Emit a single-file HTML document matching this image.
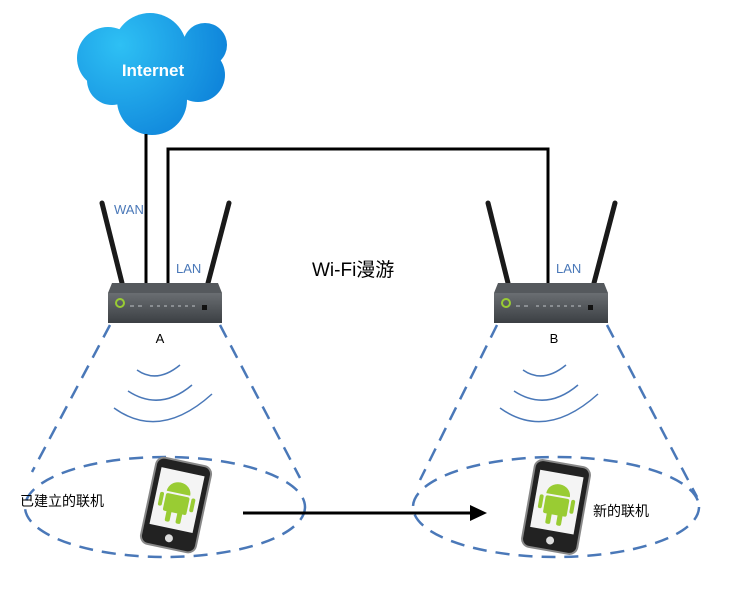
<!DOCTYPE html>
<html><head><meta charset="utf-8"><style>
html,body{margin:0;padding:0;background:#fff;}
svg text{font-family:"Liberation Sans","Noto Sans CJK SC",sans-serif;}
</style></head><body>
<svg width="730" height="602" viewBox="0 0 730 602" xmlns="http://www.w3.org/2000/svg">
<defs>
<radialGradient id="cl" gradientUnits="userSpaceOnUse" cx="120" cy="45" r="120"><stop offset="0" stop-color="#2ec0f4"/><stop offset="1" stop-color="#0c7fd8"/></radialGradient>
<linearGradient id="rt" x1="0" y1="0" x2="0" y2="1"><stop offset="0" stop-color="#6a6e72"/><stop offset="1" stop-color="#3b3f43"/></linearGradient>
<g id="router">
<line x1="-58" y1="-80" x2="-38" y2="0" stroke="#1a1a1a" stroke-width="5" stroke-linecap="round"/>
<line x1="69" y1="-80" x2="48" y2="0" stroke="#1a1a1a" stroke-width="5" stroke-linecap="round"/>
<path d="M-48 0 L58 0 L62 10 L-52 10 Z" fill="#55595d"/>
<rect x="-52" y="10" width="114" height="30" fill="url(#rt)"/>
<circle cx="-40" cy="20" r="4" fill="none" stroke="#9c3" stroke-width="2"/>
<g fill="#8a8e92"><rect x="-30" y="22" width="4" height="2"/><rect x="-22" y="22" width="4" height="2"/><rect x="-10" y="22" width="3" height="2"/><rect x="-3" y="22" width="3" height="2"/><rect x="4" y="22" width="3" height="2"/><rect x="11" y="22" width="3" height="2"/><rect x="18" y="22" width="3" height="2"/><rect x="25" y="22" width="3" height="2"/><rect x="32" y="22" width="3" height="2"/></g>
<rect x="42" y="22" width="5" height="5" fill="#111"/>
</g>
<g id="waves" fill="none" stroke="#4a78b8" stroke-width="1.5">
<path d="M-28 -6 Q-8 8 15 -11"/>
<path d="M-37 15 Q-5 36 27 9"/>
<path d="M-51 32 Q-5 65 47 18"/>
</g>
<g id="phone">
<rect x="-28" y="-44" width="56" height="88" rx="8" fill="#222" stroke="#888" stroke-width="2"/>
<rect x="-22" y="-34" width="44" height="58" fill="#f4f4f4"/>
<circle cx="0" cy="34" r="4" fill="#ddd"/>
<g fill="#9c3">
<path d="M-12 -12 A12 11 0 0 1 12 -12 Z"/>
<rect x="-12" y="-10" width="24" height="18" rx="2"/>
<rect x="-18" y="-10" width="4" height="14" rx="2"/><rect x="14" y="-10" width="4" height="14" rx="2"/>
<rect x="-8" y="6" width="5" height="12" rx="2"/><rect x="3" y="6" width="5" height="12" rx="2"/>
</g>
</g>
</defs>
<!-- cloud -->
<g fill="url(#cl)">
<circle cx="108" cy="58" r="31"/><circle cx="150" cy="50" r="37"/><circle cx="205" cy="45" r="22"/><circle cx="198" cy="75" r="27"/><circle cx="152" cy="100" r="35"/><circle cx="112" cy="80" r="25"/><circle cx="160" cy="72" r="35"/>
</g>
<text x="153" y="76" font-size="17" font-weight="bold" fill="#fff" text-anchor="middle">Internet</text>
<!-- cables -->
<g stroke="#000" stroke-width="3" fill="none">
<line x1="146" y1="134" x2="146" y2="284"/>
<polyline points="168,284 168,149 548,149 548,284"/>
</g>
<use href="#router" x="160" y="283"/>
<use href="#router" x="546" y="283"/>
<text x="114" y="214" font-size="13" fill="#4a78b8">WAN</text>
<text x="176" y="273" font-size="13" fill="#4a78b8">LAN</text>
<text x="556" y="273" font-size="13" fill="#4a78b8">LAN</text>
<text x="312" y="276" font-size="19" fill="#000">Wi-Fi漫游</text>
<text x="160" y="343" font-size="13" fill="#000" text-anchor="middle">A</text>
<text x="554" y="343" font-size="13" fill="#000" text-anchor="middle">B</text>
<use href="#waves" x="165" y="376"/>
<use href="#waves" x="551" y="376"/>
<!-- cones -->
<g stroke="#4a78b8" stroke-width="2.5" fill="none" stroke-dasharray="14,9">
<line x1="110" y1="325" x2="32" y2="472"/>
<line x1="220" y1="325" x2="300" y2="478"/>
<line x1="497" y1="325" x2="420" y2="480"/>
<line x1="607" y1="325" x2="697" y2="497"/>
<ellipse cx="165" cy="507" rx="140" ry="50"/>
<ellipse cx="556" cy="507" rx="143" ry="50"/>
</g>
<g transform="translate(176,505) rotate(12)"><use href="#phone"/></g>
<g transform="translate(556,507) rotate(10)"><use href="#phone"/></g>
<text x="20" y="506" font-size="14" fill="#000">已建立的联机</text>
<text x="593" y="516" font-size="14" fill="#000">新的联机</text>
<line x1="243" y1="513" x2="474" y2="513" stroke="#000" stroke-width="3"/>
<path d="M487 513 L470 505 L470 521 Z" fill="#000"/>
</svg>
</body></html>
